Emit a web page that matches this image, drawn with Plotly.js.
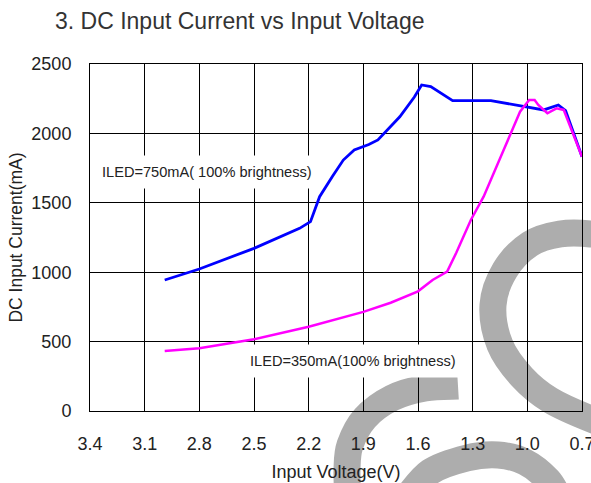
<!DOCTYPE html>
<html>
<head>
<meta charset="utf-8">
<script src="https://cdn.plot.ly/plotly-3.0.1.min.js"></script>
<style>
  html, body { margin: 0; padding: 0; background: #ffffff; }
  #chart { width: 591px; height: 483px; }
</style>
</head>
<body>
<div id="chart"></div>
<script>
// ---- data ----
const blueVoltage = [2.99, 2.80, 2.50, 2.35, 2.30, 2.25, 2.19, 2.14, 2.07, 2.01, 1.95, 1.87, 1.82, 1.70, 1.62, 1.58, 1.53, 1.41, 1.20, 1.02, 0.91, 0.83, 0.79, 0.70];
const blueCurrent = [944, 1023, 1172, 1260, 1285, 1316, 1364, 1544, 1690, 1808, 1880, 1920, 1953, 2120, 2262, 2349, 2337, 2236, 2236, 2193, 2169, 2205, 2164, 1832];

const magVoltage = [2.99, 2.80, 2.50, 2.25, 2.20, 1.90, 1.75, 1.60, 1.52, 1.44, 1.39, 1.31, 1.24, 1.13, 1.04, 0.99, 0.96, 0.94, 0.89, 0.84, 0.80, 0.70];
const magCurrent = [432, 452, 517, 596, 607, 714, 780, 862, 944, 1004, 1140, 1376, 1544, 1880, 2156, 2241, 2241, 2205, 2145, 2181, 2169, 1832];

const xTickVals = [3.4, 3.1, 2.8, 2.5, 2.2, 1.9, 1.6, 1.3, 1.0, 0.7];
const xTickText = ['3.4', '3.1', '2.8', '2.5', '2.2', '1.9', '1.6', '1.3', '1.0', '0.7'];
const yTickVals = [0, 500, 1000, 1500, 2000, 2500];

const label750 = 'ILED=750mA( 100% brightness)';
const label350 = 'ILED=350mA(100% brightness)';

// ---- layout geometry ----
const W = 591, H = 483;
const M = { l: 90, r: 9, t: 64, b: 72 };
const PW = W - M.l - M.r, PH = H - M.t - M.b;

// decorative watermark strokes, given in page pixels, converted to paper coords
function px2paper(p) { return [(p[0] - M.l) / PW, (H - M.b - p[1]) / PH]; }
function smoothPath(pts) {
  const q = pts.map(px2paper);
  let d = 'M ' + q[0][0] + ',' + q[0][1];
  for (let i = 0; i < q.length - 1; i++) {
    const p0 = q[i - 1] || q[i], p1 = q[i], p2 = q[i + 1], p3 = q[i + 2] || q[i + 1];
    const c1 = [p1[0] + (p2[0] - p0[0]) / 6, p1[1] + (p2[1] - p0[1]) / 6];
    const c2 = [p2[0] - (p3[0] - p1[0]) / 6, p2[1] - (p3[1] - p1[1]) / 6];
    d += ' C ' + c1[0] + ',' + c1[1] + ' ' + c2[0] + ',' + c2[1] + ' ' + p2[0] + ',' + p2[1];
  }
  return d;
}
const wmA = [[615, 240], [591, 234], [560, 234], [530, 244], [505, 270], [493, 305], [500, 345], [522, 377], [550, 400], [591, 419], [615, 426]];
const wmB = [[458, 386], [425, 388], [392, 398], [365, 418], [350, 445], [347, 470], [348, 500]];
const wmC = [[405, 500], [430, 472], [467, 458], [498, 455], [525, 462], [548, 480], [560, 500]];
const wmStyle = { type: 'path', xref: 'paper', yref: 'paper', layer: 'below',
  line: { color: '#adadad', width: 27 }, fillcolor: 'rgba(0,0,0,0)' };

const FONT = 'Liberation Sans, Arial, sans-serif';

const traces = [
  { x: blueVoltage, y: blueCurrent, type: 'scatter', mode: 'lines',
    line: { color: '#0000ff', width: 2.8 }, hoverinfo: 'skip' },
  { x: magVoltage, y: magCurrent, type: 'scatter', mode: 'lines',
    line: { color: '#ff00ff', width: 2.5 }, hoverinfo: 'skip' }
];

const layout = {
  width: W, height: H,
  margin: M,
  showlegend: false,
  paper_bgcolor: '#ffffff',
  plot_bgcolor: 'rgba(0,0,0,0)',
  font: { family: FONT, color: '#222222' },
  title: {
    text: '3. DC Input Current vs Input Voltage',
    x: 55 / W, xref: 'container', xanchor: 'left',
    y: 1 - 21 / H, yref: 'container', yanchor: 'middle',
    font: { family: FONT, size: 23, color: '#333333' }
  },
  xaxis: {
    range: [3.4, 0.7], autorange: false,
    tickmode: 'array', tickvals: xTickVals, ticktext: xTickText,
    showgrid: true, gridcolor: '#000000', gridwidth: 1,
    zeroline: false, showline: true, linecolor: '#000000', linewidth: 1, mirror: true,
    ticks: '', ticklabelstandoff: 16, ticklabeloverflow: 'allow',
    tickfont: { family: FONT, size: 18, color: '#222222' },
    title: { text: 'Input Voltage(V)', standoff: 12, font: { family: FONT, size: 18, color: '#222222' } },
    automargin: false
  },
  yaxis: {
    range: [0, 2500], autorange: false,
    tickmode: 'array', tickvals: yTickVals,
    showgrid: true, gridcolor: '#000000', gridwidth: 1,
    zeroline: false, showline: true, linecolor: '#000000', linewidth: 1, mirror: true,
    ticks: '', ticklabelstandoff: 14, ticklabeloverflow: 'allow',
    tickfont: { family: FONT, size: 18, color: '#222222' },
    title: { text: 'DC Input Current(mA)', standoff: 4, font: { family: FONT, size: 17.5, color: '#222222' } },
    automargin: false
  },
  annotations: [
    { x: 2.758, y: 1722, xref: 'x', yref: 'y', text: label750, showarrow: false,
      bgcolor: '#ffffff', borderpad: 8, font: { family: FONT, size: 14.6, color: '#222222' } },
    { x: 1.959, y: 357, xref: 'x', yref: 'y', text: label350, showarrow: false,
      bgcolor: '#ffffff', borderpad: 8, font: { family: FONT, size: 14.6, color: '#222222' } }
  ],
  shapes: [
    Object.assign({ path: smoothPath(wmA) }, wmStyle),
    Object.assign({ path: smoothPath(wmB) }, wmStyle),
    Object.assign({ path: smoothPath(wmC) }, wmStyle)
  ]
};

Plotly.newPlot('chart', traces, layout, { staticPlot: true, displayModeBar: false });
</script>
</body>
</html>
